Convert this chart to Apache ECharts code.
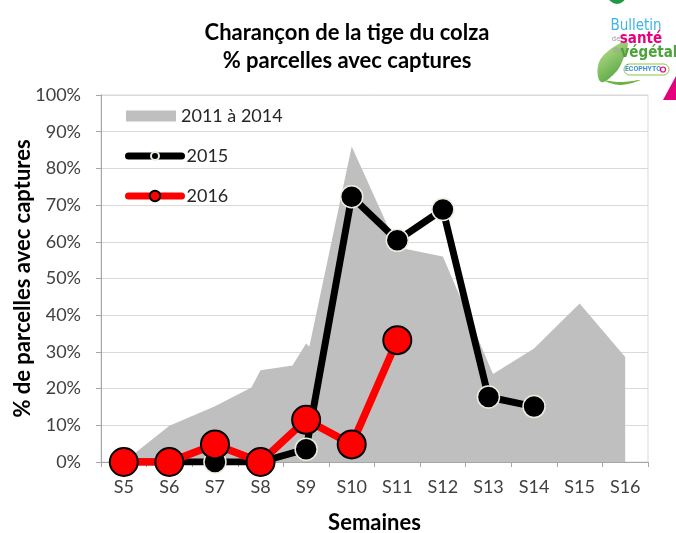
<!DOCTYPE html>
<html><head><meta charset="utf-8">
<script src="https://cdn.jsdelivr.net/npm/echarts@6/dist/echarts.min.js"></script>
<style>html,body{margin:0;padding:0;background:#fff}#c{width:676px;height:533px}</style>
</head><body><div id="c"></div>
<script>
// ---- data ----
const weeks = ['S5','S6','S7','S8','S9','S10','S11','S12','S13','S14','S15','S16'];
const yTickLabels = ['0%','10%','20%','30%','40%','50%','60%','70%','80%','90%','100%'];
// 2011 à 2014 envelope: week position (5 = S5) and % value
const rangeWeeks  = [5, 6,   7,    7.8,  8,  8.7,  9,    9.07, 10, 11,   12, 13.1, 14,   15,   16];
const rangeValues = [0, 9.9, 15.2, 20.3, 25, 26.3, 32.3, 31.4, 86, 58.5, 56, 24,   30.9, 43.2, 28.6];
const values2015 = [0, 0, 0, 0, 3.5, 72.3, 60.4, 68.8, 17.7, 15.1, null, null];
const values2016 = [0, 0, 4.8, 0, 11.5, 4.8, 33.2, null, null, null, null, null];

const FONT = 'Lato';
const rangeData = rangeWeeks.map((w, i) => [w, rangeValues[i]]);
const center = {align: 'center', verticalAlign: 'middle', textAlign: 'center', textVerticalAlign: 'middle'};
const legendText = {fontFamily: FONT, fontSize: 18, color: '#262626'};

const chart = echarts.init(document.getElementById('c'), null, {renderer: 'canvas'});
chart.setOption({
  animation: false,
  backgroundColor: '#fff',
  grid: {left: 101, right: 28, top: 95, bottom: 71, outerBoundsMode: 'none', containLabel: false,
         show: true, borderColor: '#D9D9D9', borderWidth: 1, backgroundColor: 'transparent'},
  xAxis: [
    {type: 'category', data: weeks, boundaryGap: true,
     axisLine: {lineStyle: {color: '#A6A6A6', width: 1}},
     axisTick: {show: true, length: 5, lineStyle: {color: '#A6A6A6'}},
     axisLabel: {fontFamily: FONT, fontSize: 18, color: '#404040', margin: 16},
     splitLine: {show: false},
     name: 'Semaines', nameLocation: 'middle', nameGap: 50, nameMoveOverlap: false,
     nameTextStyle: {fontFamily: FONT, fontSize: 22, fontWeight: 'bold', color: '#000'}},
    {type: 'value', min: 4.5, max: 16.5, show: false}
  ],
  yAxis: {type: 'value', min: 0, max: 100, interval: 10,
    axisLine: {show: true, lineStyle: {color: '#A6A6A6', width: 1}},
    axisTick: {show: true, length: 5, lineStyle: {color: '#A6A6A6'}},
    axisLabel: {fontFamily: FONT, fontSize: 18, color: '#404040', margin: 20,
      formatter: v => yTickLabels[Math.round(v / 10)]},
    splitLine: {show: true, lineStyle: {color: '#D9D9D9', width: 1}},
    name: '% de parcelles avec captures', nameLocation: 'middle', nameGap: 67, nameRotate: 90,
    nameMoveOverlap: false,
    nameTextStyle: {fontFamily: FONT, fontSize: 22, fontWeight: 'bold', color: '#000'}},
  legend: [
    {data: [{name: '2011 à 2014', icon: 'rect'}], left: 126, top: 107, itemWidth: 50, itemHeight: 11,
     padding: 0, selectedMode: false, textStyle: legendText},
    {data: ['2015'], left: 125, top: 147, itemWidth: 53, itemHeight: 10,
     lineStyle: {width: 7, color: '#000', cap: 'round'},
     padding: 0, selectedMode: false, textStyle: legendText},
    {data: ['2016'], left: 125, top: 187, itemWidth: 53, itemHeight: 13,
     lineStyle: {width: 7, color: '#FF0000', cap: 'round'},
     padding: 0, selectedMode: false, textStyle: legendText}
  ],
  series: [
    {name: '2011 à 2014', type: 'line', xAxisIndex: 1, data: rangeData,
     showSymbol: false, symbol: 'none', color: '#BFBFBF',
     itemStyle: {color: '#BFBFBF'},
     lineStyle: {width: 0, color: '#BFBFBF'},
     areaStyle: {color: '#BFBFBF', opacity: 1}, z: 1},
    {name: '2015', type: 'line', data: values2015, color: '#000',
     symbol: 'circle', symbolSize: 22, showSymbol: true,
     itemStyle: {color: '#000', borderColor: '#EEECE1', borderWidth: 1.5},
     lineStyle: {color: '#000', width: 7, cap: 'round', join: 'round'}, z: 3},
    {name: '2016', type: 'line', data: values2016, color: '#FF0000',
     symbol: 'circle', symbolSize: 28, showSymbol: true,
     itemStyle: {color: '#FF0000', borderColor: '#000', borderWidth: 2},
     lineStyle: {color: '#FF0000', width: 7.5, cap: 'round', join: 'round'}, z: 4}
  ],
  graphic: [
    {type: 'text', x: 347, y: 33, z: 10,
     style: Object.assign({text: 'Charançon de la tige du colza', font: 'bold 22px Lato', fill: '#000'}, center)},
    {type: 'text', x: 347, y: 61, z: 10,
     style: Object.assign({text: '% parcelles avec captures', font: 'bold 22px Lato', fill: '#000'}, center)},
    // logo
    {type: 'circle', shape: {cx: 617, cy: -5, r: 9}, style: {fill: '#1E9A46'}},
    {type: 'polygon', shape: {smooth: 0.4, points: [[601, 82], [598, 66], [607, 52], [627, 42], [622, 62], [614, 74]]},
     style: {fill: {type: 'linear', x: 0, y: 0, x2: 1, y2: 1, colorStops: [{offset: 0, color: '#C8E59A'}, {offset: 1, color: '#3E9A2E'}]}}},
    {type: 'polygon', shape: {smooth: 0.4, points: [[603, 80], [620, 85], [640, 80], [620, 82]]},
     style: {fill: '#6DB33F'}},
    {type: 'text', x: 636, y: 26, style: Object.assign({text: 'Bulletin', font: '15px "DejaVu Sans Condensed", Roboto', fill: '#3CB4E6'}, center)},
    {type: 'text', x: 616, y: 39, style: Object.assign({text: 'de', font: '8px Roboto', fill: '#A0A0A0'}, center)},
    {type: 'text', x: 641, y: 39, style: Object.assign({text: 'santé', font: 'bold 15px "DejaVu Sans Condensed", Roboto', fill: '#E6007E'}, center)},
    {type: 'text', x: 617, y: 50, style: Object.assign({text: 'du', font: '8px Roboto', fill: '#A0A0A0'}, center)},
    {type: 'text', x: 649, y: 53, style: Object.assign({text: 'végétal', font: 'bold 15px "DejaVu Sans Condensed", Roboto', fill: '#4BA33A'}, center)},
    {type: 'rect', shape: {x: 624, y: 64, width: 45, height: 11, r: 5.5}, style: {fill: '#fff', stroke: '#8CC63F', lineWidth: 1}},
    {type: 'text', x: 643, y: 69.5, style: Object.assign({text: 'ÉCOPHYTO', font: 'bold 7px Roboto', fill: '#3D8FD1'}, center)},
    {type: 'circle', shape: {cx: 663, cy: 69.5, r: 2.5}, style: {fill: '#fff', stroke: '#E6007E', lineWidth: 1.2}},
    {type: 'polygon', shape: {points: [[676, 76], [676, 100], [663, 100]]}, style: {fill: '#E6007E'}}
  ]
});
</script></body></html>
